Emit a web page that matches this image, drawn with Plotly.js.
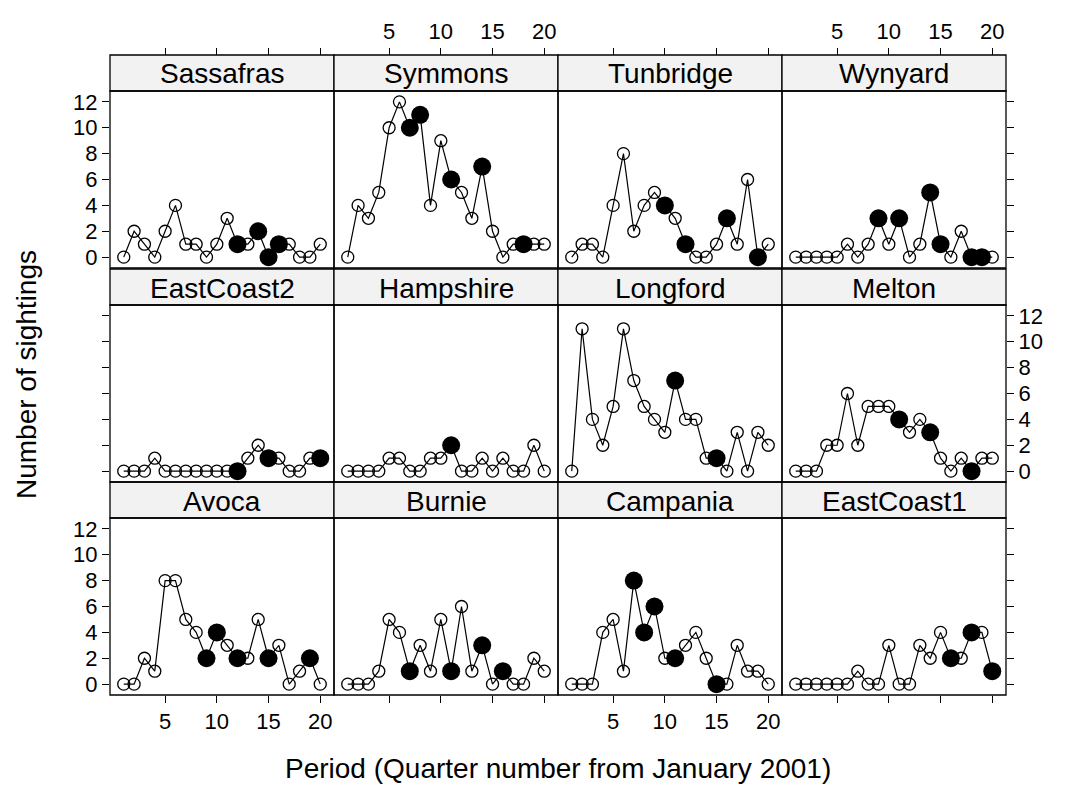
<!DOCTYPE html>
<html>
<head>
<meta charset="utf-8">
<script src="https://cdn.plot.ly/plotly-3.0.1.min.js"></script>
<style>html,body{margin:0;padding:0;background:#fff;}#chart{width:1065px;height:798px;}</style>
</head>
<body>
<div id="chart"></div>
<script>
// ---- data ----
const periods = [1,2,3,4,5,6,7,8,9,10,11,12,13,14,15,16,17,18,19,20];
const sites = ["Sassafras","Symmons","Tunbridge","Wynyard",
               "EastCoast2","Hampshire","Longford","Melton",
               "Avoca","Burnie","Campania","EastCoast1"];
const sassafras  = [0,2,1,0,2,4,1,1,0,1,3,1,1,2,0,1,1,0,0,1];
const symmons    = [0,4,3,5,10,12,10,11,4,9,6,5,3,7,2,0,1,1,1,1];
const tunbridge  = [0,1,1,0,4,8,2,4,5,4,3,1,0,0,1,3,1,6,0,1];
const wynyard    = [0,0,0,0,0,1,0,1,3,1,3,0,1,5,1,0,2,0,0,0];
const eastcoast2 = [0,0,0,1,0,0,0,0,0,0,0,0,1,2,1,1,0,0,1,1];
const hampshire  = [0,0,0,0,1,1,0,0,1,1,2,0,0,1,0,1,0,0,2,0];
const longford   = [0,11,4,2,5,11,7,5,4,3,7,4,4,1,1,0,3,0,3,2];
const melton     = [0,0,0,2,2,6,2,5,5,5,4,3,4,3,1,0,1,0,1,1];
const avoca      = [0,0,2,1,8,8,5,4,2,4,3,2,2,5,2,3,0,1,2,0];
const burnie     = [0,0,0,1,5,4,1,3,1,5,1,6,1,3,0,1,0,0,2,1];
const campania   = [0,0,0,4,5,1,8,4,6,2,2,3,4,2,0,0,3,1,1,0];
const eastcoast1 = [0,0,0,0,0,0,1,0,0,3,0,0,3,2,4,2,2,4,4,1];
// periods drawn with a filled symbol
const sassafrasFilled  = [12,14,15,16];
const symmonsFilled    = [7,8,11,14,18];
const tunbridgeFilled  = [10,12,16,19];
const wynyardFilled    = [9,11,14,15,18,19];
const eastcoast2Filled = [12,15,20];
const hampshireFilled  = [11];
const longfordFilled   = [11,15];
const meltonFilled     = [11,14,18];
const avocaFilled      = [9,10,12,15,19];
const burnieFilled     = [7,11,14,16];
const campaniaFilled   = [7,8,9,11,15];
const eastcoast1Filled = [16,18,20];
const xTicks = [5,10,15,20];
const yTicks = [0,2,4,6,8,10,12];

const counts = [sassafras,symmons,tunbridge,wynyard,eastcoast2,hampshire,longford,melton,avoca,burnie,campania,eastcoast1];
const filled = [sassafrasFilled,symmonsFilled,tunbridgeFilled,wynyardFilled,eastcoast2Filled,hampshireFilled,longfordFilled,meltonFilled,avocaFilled,burnieFilled,campaniaFilled,eastcoast1Filled];

// ---- layout geometry (pixels) ----
const W = 1065, H = 798;
const fx = p => p / W;
const fy = p => 1 - p / H;
const colLeft = [110, 334, 558, 782];
const colW = 224;
const panelTop = [91, 305, 518];
const panelH = 177;
const stripH = 36;
const FONT = "Liberation Sans, Arial, sans-serif";
const TICK_SIZE = 22, STRIP_SIZE = 28, TITLE_SIZE = 28;

const traces = [];
const layout = {
  width: W, height: H,
  margin: {l:0, r:0, t:0, b:0},
  paper_bgcolor: "#fff", plot_bgcolor: "rgba(0,0,0,0)",
  showlegend: false,
  font: {family: FONT, size: TICK_SIZE, color: "#000"},
  shapes: [], annotations: []
};

for (let i = 0; i < 12; i++) {
  const r = Math.floor(i / 4), c = i % 4;
  const n = i + 1;
  const xa = "x" + n, ya = "y" + n;
  const x0 = colLeft[c], x1 = x0 + colW;
  const pt = panelTop[r], pb = pt + panelH, st = pt - stripH;

  const xaxis = {
    domain: [fx(x0), fx(x1)], range: [-0.33, 21.33],
    showgrid: false, zeroline: false, showline: false,
    tickvals: xTicks, ticktext: xTicks.map(String),
    ticklen: 7, tickwidth: 1, tickcolor: "#000",
    tickfont: {family: FONT, size: TICK_SIZE, color: "#000"},
    fixedrange: true
  };
  if (r === 2) {
    Object.assign(xaxis, {anchor: ya, side: "bottom", ticks: "outside", showticklabels: (c === 0 || c === 2)});
  } else if (r === 0) {
    Object.assign(xaxis, {anchor: "free", position: fy(st), side: "top", ticks: "outside", showticklabels: (c === 1 || c === 3)});
  } else {
    Object.assign(xaxis, {anchor: ya, ticks: "", showticklabels: false});
  }
  const yaxis = {
    domain: [fy(pb), fy(pt)], range: [-0.84, 12.84],
    showgrid: false, zeroline: false, showline: false,
    tickvals: yTicks, ticktext: yTicks.map(String),
    ticklen: 7, tickwidth: 1, tickcolor: "#000",
    tickfont: {family: FONT, size: TICK_SIZE, color: "#000"},
    anchor: xa, fixedrange: true
  };
  if (c === 0) {
    Object.assign(yaxis, {side: "left", ticks: "outside", showticklabels: r !== 1});
  } else if (c === 3) {
    Object.assign(yaxis, {side: "right", ticks: "outside", showticklabels: r === 1});
  } else {
    Object.assign(yaxis, {ticks: "", showticklabels: false});
  }
  layout["xaxis" + (n === 1 ? "" : n)] = xaxis;
  layout["yaxis" + (n === 1 ? "" : n)] = yaxis;

  // line + open circles
  traces.push({
    type: "scatter", mode: "lines+markers", x: periods, y: counts[i],
    xaxis: xa, yaxis: ya, cliponaxis: false,
    line: {color: "#000", width: 1.2},
    marker: {symbol: "circle-open", size: 12, color: "#000", line: {width: 1.3, color: "#000"}},
    hoverinfo: "skip"
  });
  // filled circles
  const fxv = filled[i];
  traces.push({
    type: "scatter", mode: "markers", x: fxv, y: fxv.map(p => counts[i][p - 1]),
    xaxis: xa, yaxis: ya, cliponaxis: false,
    marker: {symbol: "circle", size: 18, color: "#000", line: {width: 0}},
    hoverinfo: "skip"
  });

  // panel border
  layout.shapes.push({type: "rect", xref: "paper", yref: "paper",
    x0: fx(x0), x1: fx(x1), y0: fy(pb), y1: fy(pt),
    line: {color: "#000", width: 1.3}, fillcolor: "rgba(0,0,0,0)", layer: "above"});
  // strip
  layout.shapes.push({type: "rect", xref: "paper", yref: "paper",
    x0: fx(x0), x1: fx(x1), y0: fy(pt), y1: fy(st),
    line: {color: "#000", width: 1.3}, fillcolor: "#f2f2f2", layer: "below"});
  layout.annotations.push({xref: "paper", yref: "paper",
    x: fx((x0 + x1) / 2), y: fy((st + pt) / 2 + 1), xanchor: "center", yanchor: "middle",
    text: sites[i], showarrow: false, font: {family: FONT, size: STRIP_SIZE, color: "#000"}});
}

layout.annotations.push({xref: "paper", yref: "paper", x: fx(558), y: fy(768),
  xanchor: "center", yanchor: "middle", showarrow: false,
  text: "Period (Quarter number from January 2001)", font: {family: FONT, size: TITLE_SIZE, color: "#000"}});
layout.annotations.push({xref: "paper", yref: "paper", x: fx(26), y: fy(375),
  xanchor: "center", yanchor: "middle", showarrow: false, textangle: -90,
  text: "Number of sightings", font: {family: FONT, size: TITLE_SIZE, color: "#000"}});

Plotly.newPlot("chart", traces, layout, {staticPlot: true, displayModeBar: false});
</script>
</body>
</html>
